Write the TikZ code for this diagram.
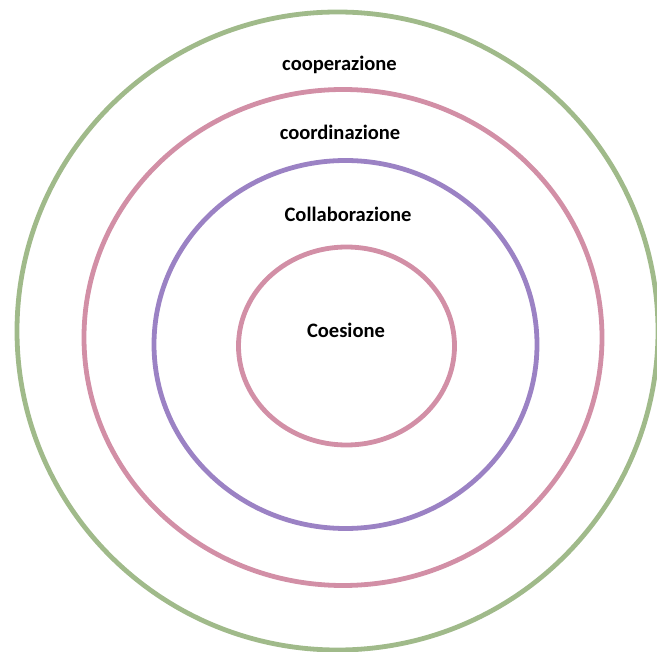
\documentclass[tikz,border=0pt]{standalone}
\usepackage{fontspec}
\setmainfont{Carlito}
\definecolor{ringgreen}{RGB}{160,186,138}
\definecolor{ringpink}{RGB}{210,143,166}
\definecolor{ringpurple}{RGB}{155,130,196}
\tikzset{
  ring/.style={line width=3.6pt},
  ringlabel/.style={font=\bfseries\fontsize{15.4}{18}\selectfont, anchor=base, inner sep=0pt}
}
\begin{document}
\begin{tikzpicture}[x=0.75pt,y=-0.75pt]
  \useasboundingbox (0,0) rectangle (657,652);
  \clip (0,0) rectangle (657,652);
  % concentric rings, outermost first
  \draw[ring, ringgreen]  (337.5,331) ellipse [x radius=320.5, y radius=319];
  \draw[ring, ringpink]   (343,337.5) ellipse [x radius=259, y radius=248];
  \draw[ring, ringpurple] (345.5,344.5) ellipse [x radius=191.5, y radius=184];
  \draw[ring, ringpink]   (346.5,346) ellipse [x radius=108, y radius=99];
  % ring labels
  \node[ringlabel] (coop)  at (339.5,70.5)  {cooperazione};
  \node[ringlabel] (coord) at (340,139.3)   {coordinazione};
  \node[ringlabel] (coll)  at (348,221.7)   {Collaborazione};
  \node[ringlabel] (coes)  at (346,337.7)   {Coesione};
\end{tikzpicture}
\end{document}
